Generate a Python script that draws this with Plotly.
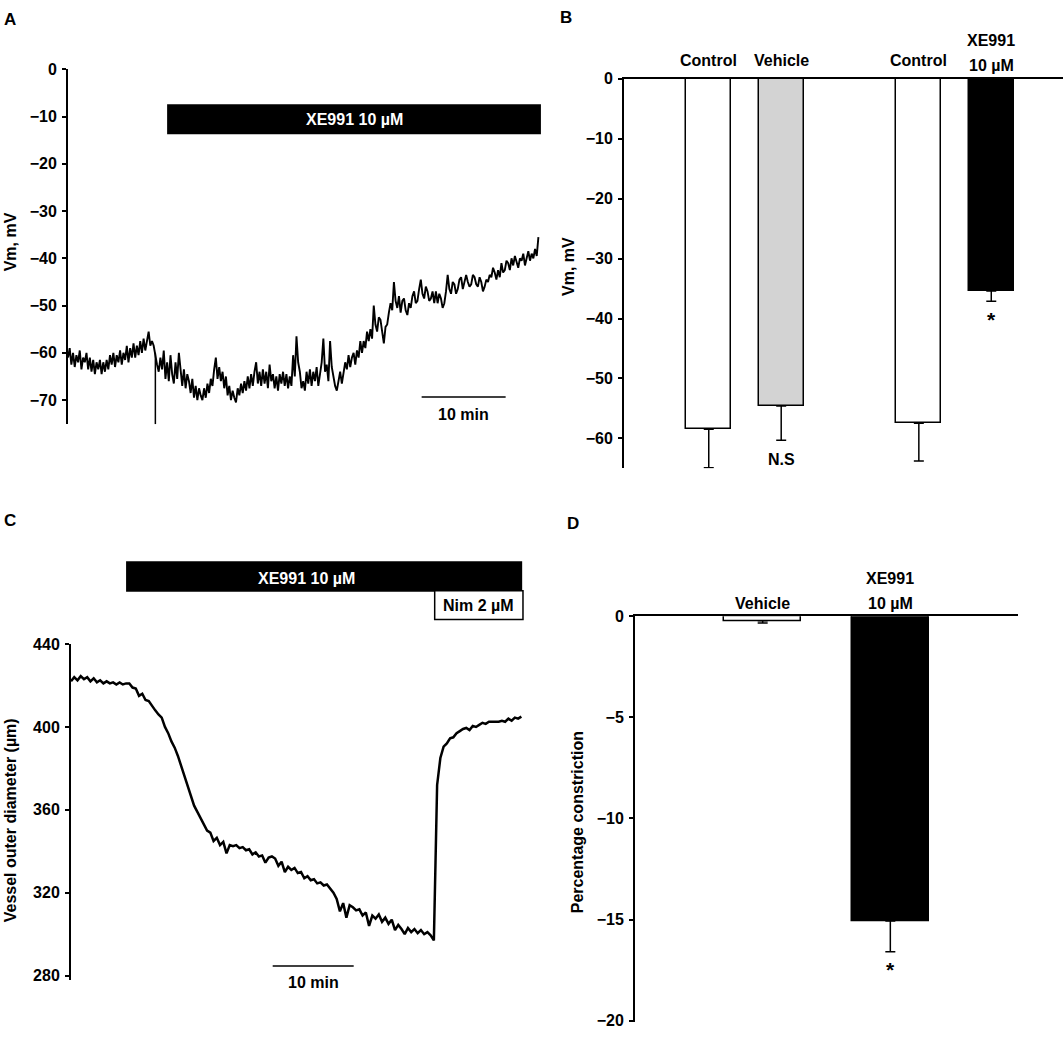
import plotly.graph_objects as go

W, H = 1063, 1038
FONT = "Liberation Sans"
FS = 16

# ------------------------------------------------------------------ data
# Panel A : membrane potential trace (mV), sampled every a_dt minutes
a_dt = 0.2
a_vm = [
    -61.0, -59.0, -62.5, -60.0, -63.0, -60.5, -62.0, -59.5, -63.5, -61.0,
    -62.0, -60.0, -63.5, -61.0, -64.0, -61.5, -64.5, -62.0, -63.5, -61.5,
    -64.5, -62.0, -64.0, -61.5, -63.5, -60.5, -62.5, -60.0, -63.0, -60.5,
    -62.0, -59.5, -62.5, -60.0, -61.5, -58.5, -62.0, -59.0, -61.0, -58.0,
    -61.0, -58.5, -60.5, -57.5, -60.0, -57.0, -59.5, -57.0, -55.5, -58.5,
    -57.5, -58.5, -61.0, -62.5, -64.0, -61.0, -63.5, -59.5, -65.5, -62.0,
    -66.0, -60.5, -64.5, -66.5, -62.0, -65.5, -60.0, -64.0, -67.0, -63.5,
    -67.5, -64.5, -66.0, -68.5, -65.5, -69.5, -67.0, -70.0, -67.5, -69.0,
    -70.0, -67.5, -69.5, -66.5, -68.5, -65.5, -67.0, -63.5, -61.0, -65.5,
    -63.0, -66.0, -64.0, -67.5, -65.0, -69.0, -67.0, -70.0, -68.0, -69.5,
    -70.5, -67.5, -69.0, -66.5, -68.5, -66.0, -68.0, -65.0, -67.5, -64.5,
    -67.0, -64.0, -62.0, -66.5, -64.0, -67.0, -63.5, -66.5, -64.0, -67.5,
    -62.5, -66.0, -64.5, -67.5, -65.0, -68.0, -64.5, -66.5, -64.0, -67.0,
    -64.5, -67.5, -65.0, -67.0, -60.5, -65.0, -56.5, -62.0, -64.0, -67.5,
    -66.0, -68.0, -64.0, -66.5, -63.5, -67.0, -64.0, -66.0, -63.0, -67.0,
    -64.5, -62.0, -57.0, -64.0, -62.5, -66.0, -57.5, -63.0, -65.0, -67.0,
    -68.0, -65.5, -64.0, -66.5, -64.5, -62.0, -63.5, -60.5, -63.0, -61.0,
    -60.0, -62.5, -59.5, -61.0, -57.5, -60.0, -57.5, -59.0, -55.5, -57.5,
    -55.0, -57.0, -50.0, -54.0, -55.5, -52.5, -53.0, -55.5, -58.0, -54.5,
    -54.0, -51.5, -49.5, -51.0, -45.0, -49.0, -50.5, -48.0, -51.5, -49.0,
    -48.5, -51.0, -52.0, -49.5, -50.5, -48.0, -47.0, -49.5, -49.0, -46.5,
    -44.5, -47.5, -48.5, -46.0, -47.0, -49.0, -48.5, -47.0, -49.5, -47.0,
    -49.5, -47.5, -48.5, -50.5, -49.5, -47.0, -43.5, -46.5, -47.5, -45.0,
    -45.5, -47.5, -46.5, -44.5, -44.0, -46.5, -45.0, -43.5, -45.0, -46.0,
    -45.5, -43.5, -44.0, -45.5, -46.0, -44.0, -45.0, -47.0, -46.0, -44.5,
    -45.0, -43.5, -44.0, -42.0, -43.0, -44.5, -42.5, -44.0, -41.0, -43.0,
    -42.5, -40.5, -41.0, -42.5, -40.0, -41.5, -39.5, -41.0, -42.0, -40.0,
    -40.5, -39.0, -41.5, -40.0, -38.5, -40.5, -39.0, -40.0, -38.0, -39.5,
    -35.5,
]
a_artifact_t = 10.4
a_artifact_v = [-60.0, -75.1]
a_drug_label = "XE991 10 µM"
a_drug_on, a_drug_off = 11.8, 56.3
a_scale_min = 10
a_yticks = [0, -10, -20, -30, -40, -50, -60, -70]
a_ytitle = "Vm, mV"

# Panel B : mean Vm
b_labels = [["Control"], ["Vehicle"], ["Control"], ["XE991", "10 µM"]]
b_values = [-58.5, -54.6, -57.5, -35.4]
b_errors = [6.4, 5.7, 6.3, 1.7]
b_sig = ["", "N.S", "", "*"]
b_yticks = [0, -10, -20, -30, -40, -50, -60]
b_ytitle = "Vm, mV"

# Panel C : vessel outer diameter trace (µm), sampled every c_dt minutes
c_dt = 0.4
c_diam = [
    422.0, 424.0, 422.5, 424.5, 423.0, 424.0, 422.0, 423.5, 421.5, 422.5,
    421.0, 422.0, 421.0, 421.5, 420.5, 421.5, 420.5, 421.0, 421.0, 419.0,
    418.5, 415.0, 416.0, 413.0, 412.5, 410.0, 408.0, 406.0, 404.5, 400.0,
    397.0, 393.0, 390.0, 386.0, 381.0, 377.0, 371.0, 366.0, 362.0, 359.0,
    356.0, 353.0, 350.0, 349.0, 345.0, 346.5, 343.0, 344.5, 339.0, 343.0,
    342.5, 343.0, 341.5, 342.0, 340.5, 341.0, 338.5, 339.5, 337.5, 338.0,
    334.5, 337.0, 337.5, 336.5, 333.0, 335.0, 330.0, 332.5, 331.0, 332.0,
    329.5, 330.0, 327.0, 328.0, 326.0, 326.5, 324.5, 325.0, 323.5, 324.0,
    322.0, 320.0, 317.0, 311.0, 315.0, 308.0, 314.0, 313.0, 311.5, 312.0,
    309.0, 310.5, 304.0, 309.0, 307.5, 309.5, 306.0, 308.0, 305.0, 307.0,
    302.0, 304.5, 302.5, 300.0, 303.0, 301.0, 302.5, 300.5, 302.0, 300.0,
    301.0, 299.5, 297.0, 372.0, 385.0, 390.5, 392.0, 394.5, 395.0, 397.0,
    398.0, 399.0, 399.5, 398.5, 400.5, 400.0, 401.0, 402.0, 401.5, 402.5,
    402.5, 402.5, 402.5, 403.0, 402.5, 404.0, 403.0, 404.5, 404.0, 405.0,
]
c_drug_label = "XE991 10 µM"
c_drug_on, c_drug_off = 6.8, 55.7
c_nim_label = "Nim 2 µM"
c_nim_on, c_nim_off = 44.9, 55.8
c_scale_min = 10
c_yticks = [280, 320, 360, 400, 440]
c_ytitle = "Vessel outer diameter (µm)"

# Panel D : percentage constriction
d_labels = [["Vehicle"], ["XE991", "10 µM"]]
d_values = [-0.23, -15.07]
d_errors = [0.11, 1.53]
d_sig = ["", "*"]
d_yticks = [0, -5, -10, -15, -20]
d_ytitle = "Percentage constriction"

panel_letters = ["A", "B", "C", "D"]

# ------------------------------------------------------------------ helpers
def px(x):
    return x / W


def py(y):
    return 1 - y / H


def bold(t):
    return "<b>" + t + "</b>"


tickfont = dict(family=FONT, size=FS, color="black", weight="bold")
txtfont = dict(family=FONT, size=FS, color="black")
starfont = dict(family=FONT, size=21, color="black")
CENTER = dict(xanchor="center", yanchor="middle", showarrow=False)

fig = go.Figure()

# ------------------------------------------------------------------ traces
fig.add_trace(go.Scatter(
    x=[i * a_dt for i in range(len(a_vm))], y=a_vm, mode="lines",
    line=dict(color="black", width=1.9), xaxis="x", yaxis="y", hoverinfo="skip"))
fig.add_trace(go.Scatter(
    x=[a_artifact_t] * len(a_artifact_v), y=a_artifact_v, mode="lines",
    line=dict(color="black", width=1.5), xaxis="x", yaxis="y", hoverinfo="skip"))

b_pos = [1, 2, 3.9, 4.9]
b_colors = ["white", "#d3d3d3", "white", "black"]
fig.add_trace(go.Bar(
    x=b_pos, y=b_values, width=0.62,
    marker=dict(color=b_colors, line=dict(color="black", width=1.5)),
    error_y=dict(type="data", symmetric=False, array=[0] * len(b_values),
                 arrayminus=b_errors, color="black", thickness=1.5, width=5),
    xaxis="x2", yaxis="y2", hoverinfo="skip"))

fig.add_trace(go.Scatter(
    x=[i * c_dt for i in range(len(c_diam))], y=c_diam, mode="lines",
    line=dict(color="black", width=2.5), xaxis="x3", yaxis="y3", hoverinfo="skip"))

d_pos = [1, 2]
d_colors = ["white", "black"]
fig.add_trace(go.Bar(
    x=d_pos, y=d_values, width=0.6,
    marker=dict(color=d_colors, line=dict(color="black", width=1.5)),
    error_y=dict(type="data", symmetric=False, array=[0] * len(d_values),
                 arrayminus=d_errors, color="black", thickness=1.5, width=5),
    xaxis="x4", yaxis="y4", hoverinfo="skip"))

# ------------------------------------------------------------------ axes
yax_common = dict(showline=True, linecolor="black", linewidth=2, ticks="outside",
                  ticklen=4, tickwidth=1.5, tickcolor="black", showgrid=False,
                  zeroline=False, tickfont=tickfont, ticklabelstandoff=2)
xhidden = dict(visible=False, showgrid=False, zeroline=False)
xtop = dict(showline=True, linecolor="black", linewidth=2, side="top", ticks="",
            showticklabels=False, showgrid=False, zeroline=False)

fig.update_layout(
    width=W, height=H, margin=dict(l=0, r=0, t=0, b=0),
    paper_bgcolor="white", plot_bgcolor="rgba(0,0,0,0)", showlegend=False,
    bargap=0, hovermode=False,
    xaxis=dict(domain=[px(68), px(545)], range=[0, 477 / 8.4], anchor="y", **xhidden),
    yaxis=dict(domain=[py(422.7), py(62.3)], range=[-75.1, 0], anchor="x",
               tickvals=a_yticks, **yax_common),
    xaxis2=dict(domain=[px(624), 1.0], range=[-0.17, 5.89], anchor="y2", **xtop),
    yaxis2=dict(domain=[py(467.5), py(72)], range=[-65, 0], anchor="x2",
                tickvals=b_yticks, **yax_common),
    xaxis3=dict(domain=[px(71), px(530)], range=[0, 459 / 8.1], anchor="y3", **xhidden),
    yaxis3=dict(domain=[py(987), py(646)], range=[278, 440], anchor="x3",
                tickvals=c_yticks, **yax_common),
    xaxis4=dict(domain=[px(635), px(1018)], range=[0, 3], anchor="y4", **xtop),
    yaxis4=dict(domain=[py(1029.5), py(617.7)], range=[-20.05, 0], anchor="x4",
                tickvals=d_yticks, **yax_common),
)

shapes = []
ann = []

# ---- panel A decorations
shapes.append(dict(type="rect", xref="x", yref="paper", x0=a_drug_on, x1=a_drug_off,
                   y0=py(128.3), y1=py(97.7), fillcolor="black", line=dict(width=0)))
ann.append(dict(xref="x", yref="paper", x=(a_drug_on + a_drug_off) / 2, y=py(113),
                text=bold(a_drug_label), font=dict(family=FONT, size=FS, color="white"),
                **CENTER))
a_sb0 = 42.1
shapes.append(dict(type="line", xref="x", yref="paper", x0=a_sb0, x1=a_sb0 + a_scale_min,
                   y0=py(395), y1=py(395), line=dict(color="black", width=1.5)))
ann.append(dict(xref="x", yref="paper", x=a_sb0 + a_scale_min / 2, y=py(413),
                text=bold(f"{a_scale_min} min"), font=txtfont, **CENTER))

# ---- panel B decorations
for pos, lines, val, err, sig in zip(b_pos, b_labels, b_values, b_errors, b_sig):
    ys = [53] if len(lines) == 1 else [33, 58]
    for t, yy in zip(lines, ys):
        ann.append(dict(xref="x2", yref="paper", x=pos, y=py(yy), text=bold(t),
                        font=txtfont, **CENTER))
    if sig:
        if sig == "*":
            ann.append(dict(xref="x2", yref="y2", x=pos, y=val - err, text=bold(sig),
                            font=starfont, yshift=-18, **CENTER))
        else:
            ann.append(dict(xref="x2", yref="y2", x=pos, y=val - err, text=bold(sig),
                            font=txtfont, yshift=-19, **CENTER))

# ---- panel C decorations
shapes.append(dict(type="rect", xref="x3", yref="paper", x0=c_drug_on, x1=c_drug_off,
                   y0=py(593), y1=py(562), fillcolor="black", line=dict(width=0)))
ann.append(dict(xref="x3", yref="paper", x=29.1, y=py(579),
                text=bold(c_drug_label), font=dict(family=FONT, size=FS, color="white"),
                **CENTER))
shapes.append(dict(type="rect", xref="x3", yref="paper", x0=c_nim_on, x1=c_nim_off,
                   y0=py(621), y1=py(592), fillcolor="white",
                   line=dict(color="black", width=1.5)))
ann.append(dict(xref="x3", yref="paper", x=(c_nim_on + c_nim_off) / 2, y=py(607),
                text=bold(c_nim_label), font=txtfont, **CENTER))
c_sb0 = 24.9
shapes.append(dict(type="line", xref="x3", yref="paper", x0=c_sb0, x1=c_sb0 + c_scale_min,
                   y0=py(973), y1=py(973), line=dict(color="black", width=1.5)))
ann.append(dict(xref="x3", yref="paper", x=c_sb0 + c_scale_min / 2, y=py(990),
                text=bold(f"{c_scale_min} min"), font=txtfont, **CENTER))

# ---- panel D decorations
for pos, lines, val, err, sig in zip(d_pos, d_labels, d_values, d_errors, d_sig):
    ys = [604.7] if len(lines) == 1 else [579.6, 604.7]
    for t, yy in zip(lines, ys):
        ann.append(dict(xref="x4", yref="paper", x=pos, y=py(yy), text=bold(t),
                        font=txtfont, **CENTER))
    if sig:
        ann.append(dict(xref="x4", yref="y4", x=pos, y=val - err, text=bold(sig),
                        font=starfont, yshift=-18, **CENTER))

# ---- axis titles
for title, xx, yy in [(a_ytitle, 10, 238), (b_ytitle, 569, 263),
                      (c_ytitle, 10, 825), (d_ytitle, 577, 827)]:
    ann.append(dict(xref="paper", yref="paper", x=px(xx), y=py(yy), text=bold(title),
                    textangle=-90, font=txtfont, **CENTER))

# ---- panel letters
for letter, xx, yy in zip(panel_letters, [10, 566, 10, 573], [12, 10, 521, 524]):
    ann.append(dict(xref="paper", yref="paper", x=px(xx), y=py(yy), text=bold(letter),
                    font=dict(family=FONT, size=17, color="black"), **CENTER))

fig.update_layout(shapes=shapes, annotations=ann)
fig.write_html("out.html", config={"displayModeBar": False},
               post_script="document.body.style.margin='0px';")
